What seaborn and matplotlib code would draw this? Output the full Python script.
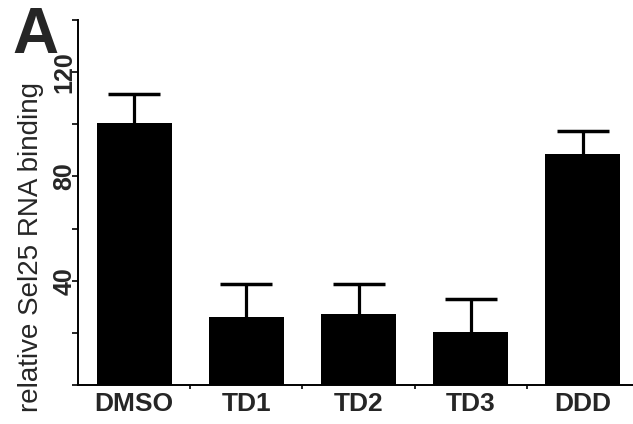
import numpy as np
import pandas as pd
import matplotlib
matplotlib.use("Agg")
import matplotlib.pyplot as plt
import seaborn as sns
from matplotlib.ticker import FixedLocator

categories = ["DMSO", "TD1", "TD2", "TD3", "DDD"]
values = [100.4, 26.0, 27.1, 20.2, 88.5]
errors = [11.1, 12.6, 11.5, 12.8, 9.0]
ytick_major = [40, 80, 120]
ytick_minor = [0, 20, 60, 100, 140]
ylabel_text = "relative Sel25 RNA binding"
panel_label = "A"

sns.set_style("ticks")
plt.rcParams["font.family"] = ["Liberation Sans", "DejaVu Sans"]

df = pd.DataFrame({"condition": categories, "binding": values})

fig = plt.figure(figsize=(6.33, 4.24), dpi=100)
ax = fig.add_axes([78 / 633, 39 / 424, 561 / 633, 365 / 424])

sns.barplot(data=df, x="condition", y="binding", color="black",
            width=0.67, linewidth=0, saturation=1, errorbar=None, ax=ax)
ax.errorbar(np.arange(len(categories)), values, yerr=errors, fmt="none",
            ecolor="black", elinewidth=2.3, capsize=18.7, capthick=2.5)

ax.set_xlim(-0.5, len(categories) - 0.5)
ax.set_ylim(0, 140)
ax.set_xlabel("")
ax.set_ylabel(ylabel_text, fontsize=20, labelpad=0)
ax.yaxis.set_label_coords(-0.060, 0.379)

ax.yaxis.set_major_locator(FixedLocator(ytick_major))
ax.yaxis.set_minor_locator(FixedLocator(ytick_minor))
ax.set_yticklabels([str(t) for t in ytick_major], rotation=90,
                   fontsize=18, fontweight="bold", va="center")
ax.tick_params(axis="y", which="both", length=4, width=1.4, direction="out", pad=-3)

ax.xaxis.set_minor_locator(FixedLocator(np.arange(len(categories) - 1) + 0.5))
ax.tick_params(axis="x", which="major", length=0, pad=5)
ax.tick_params(axis="x", which="minor", length=3, width=1.4, direction="out")
for lab in ax.get_xticklabels():
    lab.set_fontsize(19)
    lab.set_fontweight("bold")

sns.despine(ax=ax)
for s in ["left", "bottom"]:
    ax.spines[s].set_linewidth(1.4)
    ax.spines[s].set_color("black")

fig.text(12 / 633, 1 - 53 / 424, panel_label, fontsize=46, fontweight="bold",
         ha="left", va="baseline")

fig.savefig("out.png", dpi=100)
